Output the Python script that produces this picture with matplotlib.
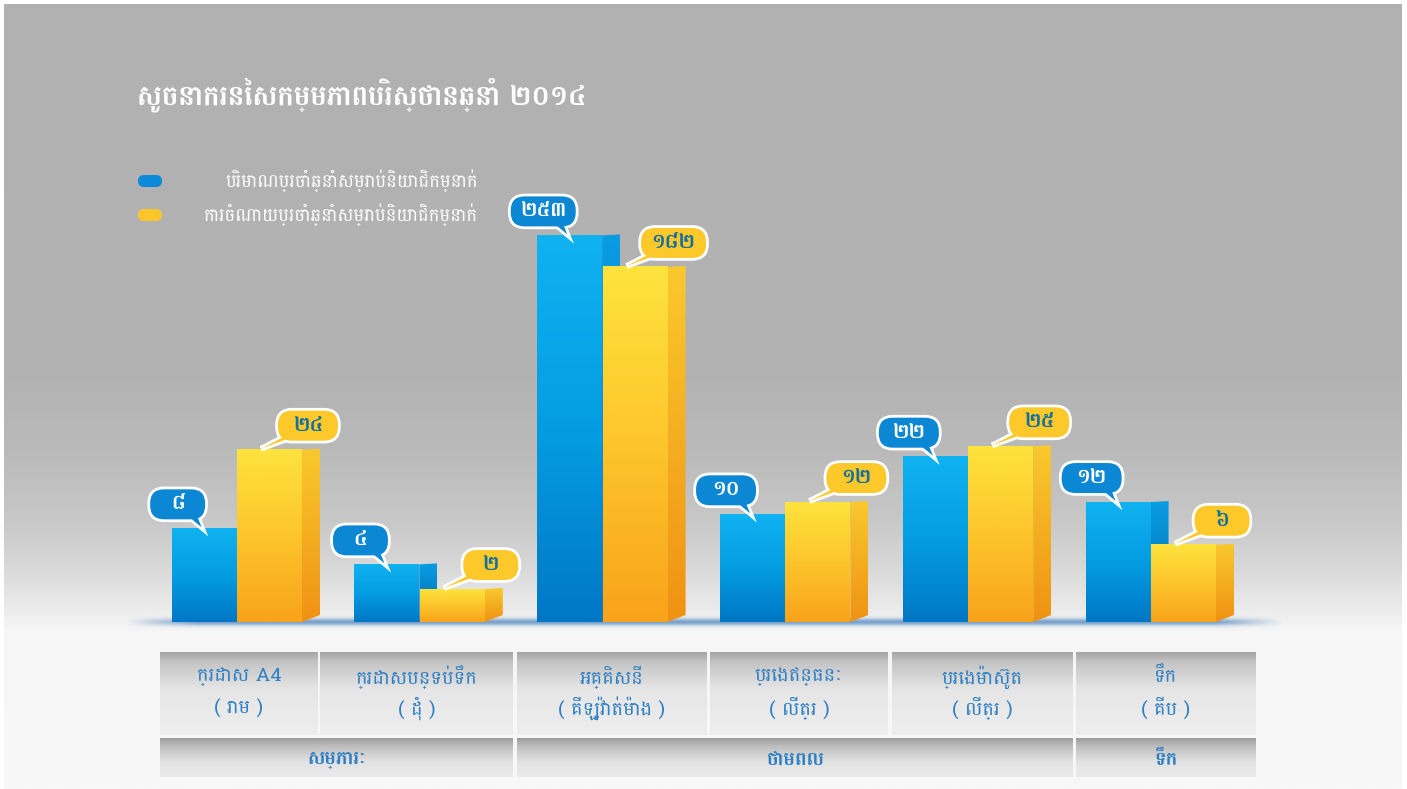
import numpy as np
import matplotlib.pyplot as plt
from matplotlib.patches import Polygon, FancyBboxPatch
from matplotlib.colors import to_rgb

plt.rcParams['font.family'] = ['Battambang', 'DejaVu Sans']

# ---- data ----
title = 'សូចនាករនៃសកម្មភាពបរិស្ថានឆ្នាំ ២០១៤'
series_names = ['បរិមាណប្រចាំឆ្នាំសម្រាប់និយោជិកម្នាក់',
                'ការចំណាយប្រចាំឆ្នាំសម្រាប់និយោជិកម្នាក់']
categories = ['ក្រដាស A4', 'ក្រដាសបន្ទប់ទឹក', 'អគ្គិសនី',
              'ប្រេងឥន្ធនៈ', 'ប្រេងម៉ាស៊ូត', 'ទឹក']
units = ['( រាម )', '( ដុំ )', '( គីឡូវ៉ាត់ម៉ោង )', '( លីត្រ )', '( លីត្រ )', '( គីប )']
groups = ['សម្ភារៈ', 'ថាមពល', 'ទឹក']
group_span = [2, 3, 1]
quantity = [8, 4, 253, 10, 22, 12]
cost = [24, 2, 182, 12, 25, 6]

KHMER = str.maketrans('0123456789', '០១២៣៤៥៦៧៨៩')


def khmer(n):
    return str(n).translate(KHMER)


def vgrad(a, x0, x1, y0, y1, stops, clip=None, z=1):
    # vertical gradient, stops given from top (0) to bottom (1)
    t = np.linspace(0, 1, 256)
    pos = [p for p, _ in stops]
    cols = np.array([to_rgb(c) for _, c in stops])
    rgb = np.stack([np.interp(t, pos, cols[:, k]) for k in range(3)], axis=1)
    img = a.imshow(rgb[:, None, :], extent=[x0, x1, y0, y1], origin='upper',
                   aspect='auto', interpolation='bilinear', zorder=z)
    if clip is not None:
        img.set_clip_path(clip)
    return img


def bubble(a, cx, cy, tip, text, fc, tc):
    w = 50 + 5 * len(text)
    h = 30
    box = dict(boxstyle='round,pad=0,rounding_size=14')
    if tip[0] > cx:
        tail = [(cx + 6, cy - 8), (cx + 18, cy - 8), tip]
    else:
        tail = [(cx - 18, cy - 8), (cx - 6, cy - 8), tip]
    # white outline first, then the fill on top
    a.add_patch(FancyBboxPatch((cx - w / 2, cy - h / 2), w, h, **box,
                               fc='white', ec='white', lw=4, zorder=10))
    a.add_patch(Polygon(tail, closed=True, fc='white', ec='white', lw=4, zorder=10))
    a.add_patch(FancyBboxPatch((cx - w / 2, cy - h / 2), w, h, **box,
                               fc=fc, ec='none', zorder=11))
    a.add_patch(Polygon(tail, closed=True, fc=fc, ec='none', zorder=11))
    a.text(cx, cy + 1, text, ha='center', va='center', fontsize=15,
           fontweight='bold', color=tc, zorder=12)


W, H = 1407, 789
fig = plt.figure(figsize=(W / 100, H / 100), dpi=100)

# background layer, pixel coordinates (y up)
bg = fig.add_axes([0, 0, 1, 1], zorder=0)
bg.set_xlim(0, W)
bg.set_ylim(0, H)
bg.axis('off')
vgrad(bg, 4, W - 5, 0, H - 4,
      [(0, '#b1b1b1'), (0.48, '#b3b3b3'), (0.57, '#bababa'), (0.66, '#c8c8c8'),
       (0.72, '#d9d9d9'), (0.765, '#e9e9e9'), (0.80, '#f6f6f6'), (1, '#f8f8f8')], z=0)

# soft shadow along the floor line
sx = np.linspace(0, 1, 400)
sy = np.linspace(-1, 1, 40)
alpha = np.exp(-(sy[:, None] / 0.45) ** 2) * np.clip(np.minimum(sx, 1 - sx)[None, :] / 0.06, 0, 1)
shadow = np.zeros((40, 400, 4))
shadow[..., :3] = to_rgb('#4f86bf')
shadow[..., 3] = alpha * 0.75
bg.imshow(shadow, extent=[125, 1285, 159, 175], aspect='auto', zorder=1)

# table below the chart
col_edges = [(160, 318), (320, 513), (517, 707), (710, 888), (892, 1073), (1076, 1256)]
row1 = (H - 735, H - 652)
row2 = (H - 777, H - 738)
label_col = '#2f80c4'
for (x0, x1), name, unit in zip(col_edges, categories, units):
    vgrad(bg, x0, x1, row1[0], row1[1],
          [(0, '#a5a5a5'), (0.12, '#c4c4c4'), (0.45, '#e6e6e6'), (1, '#eeeeee')], z=2)
    bg.text((x0 + x1) / 2, H - 677, name, ha='center', va='center',
            fontsize=14, color=label_col, zorder=3)
    bg.text((x0 + x1) / 2, H - 708, unit, ha='center', va='center',
            fontsize=14, color=label_col, zorder=3)
start = 0
for g, span in zip(groups, group_span):
    x0 = col_edges[start][0]
    x1 = col_edges[start + span - 1][1]
    start += span
    vgrad(bg, x0, x1, row2[0], row2[1],
          [(0, '#9c9c9c'), (0.2, '#bdbdbd'), (0.6, '#e2e2e2'), (1, '#ebebeb')], z=2)
    bg.text((x0 + x1) / 2, H - 760, g, ha='center', va='center',
            fontsize=14, color=label_col, fontweight='bold', zorder=3)

# title and legend
bg.text(137, H - 95, title, ha='left', va='center', fontsize=20,
        color='white', fontweight='bold', zorder=3)
leg_cols = ['#0a8ad8', '#fcc62a']
for i, (name, c) in enumerate(zip(series_names, leg_cols)):
    yc = H - (181 + 34 * i)
    bg.add_patch(FancyBboxPatch((138, yc - 6), 24, 12,
                                boxstyle='round,pad=0,rounding_size=6',
                                fc=c, ec='none', zorder=3))
    bg.text(478, yc, name, ha='right', va='center', fontsize=13,
            color='white', zorder=3)

# ---- bars on a compressed (log1p) value scale ----
ax = fig.add_axes([127.3 / W, 167 / H, 1133.4 / W, 403 / H], zorder=1)
ax.set_yscale('function', functions=(lambda v: np.log1p(np.clip(v, 0, None) / 5),
                                     lambda u: 5 * np.expm1(u)))
x = np.arange(len(categories))
bars_q = ax.bar(x - 0.18, quantity, 0.355, color='#0a95dd')
bars_c = ax.bar(x + 0.178, cost, 0.355, color='#fbbf26')
ax.set_xlim(-0.6, 5.6)
ax.set_ylim(0, 300)
ax.axis('off')

# overlay in pixels for shading and bubbles
fx = fig.add_axes([0, 0, 1, 1], zorder=2)
fx.axis('off')
fx.patch.set_alpha(0)

front = {'q': [(0, '#10b2f0'), (0.5, '#049de3'), (1, '#0077c4')],
         'c': [(0, '#fde33e'), (0.5, '#fdc52c'), (1, '#f8a31a')]}
side = {'q': [(0, '#0a9de2'), (1, '#0066ad')],
        'c': [(0, '#f9c92e'), (1, '#f09212')]}
bubble_fc = {'q': '#0b87d4', 'c': '#fcc82a'}
bubble_tc = {'q': 'white', 'c': '#17709c'}

for i in range(len(categories)):
    for key, bars, vals in (('q', bars_q, quantity), ('c', bars_c, cost)):
        ext = bars[i].get_window_extent()
        x0, x1, y0, y1 = ext.x0, ext.x1, ext.y0, ext.y1
        vgrad(fx, x0, x1, y0, y1, front[key], z=2 + (key == 'c'))
        pts = [(x1, y0), (x1 + 18, y0 + 7), (x1 + 18, y1 + 1), (x1, y1)]
        poly = Polygon(pts, closed=True, transform=fx.transData)
        vgrad(fx, x1, x1 + 18, y0, y1 + 1, side[key], clip=poly, z=2 + (key == 'c'))
        if key == 'q':
            bubble(fx, x0 + 6, y1 + 24, (x0 + 30, y1 + 1), khmer(vals[i]),
                   bubble_fc[key], bubble_tc[key])
        else:
            bubble(fx, x1 + 6, y1 + 24, (x0 + 24, y1 + 1), khmer(vals[i]),
                   bubble_fc[key], bubble_tc[key])

fx.set_xlim(0, W)
fx.set_ylim(0, H)
bg.set_xlim(0, W)
bg.set_ylim(0, H)

fig.savefig('out.png', dpi=100)
